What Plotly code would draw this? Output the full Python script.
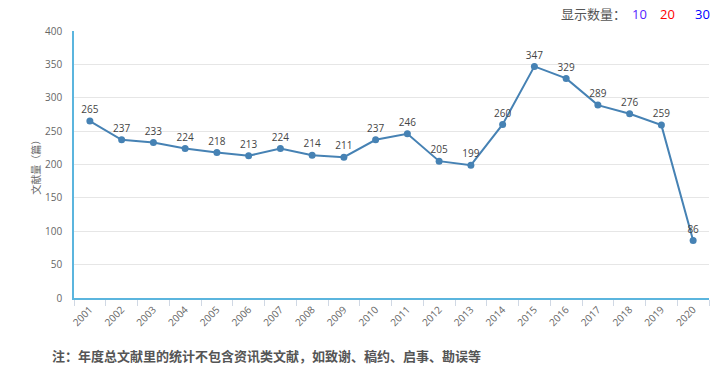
import plotly.graph_objects as go

years = [str(y) for y in range(2001, 2021)]
counts = [265, 237, 233, 224, 218, 213, 224, 214, 211, 237, 246, 205, 199, 260, 347, 329, 289, 276, 259, 86]
y_ticks = [0, 50, 100, 150, 200, 250, 300, 350, 400]
y_title = "文献量（篇）"
note = "注：年度总文献里的统计不包含资讯类文献，如致谢、稿约、启事、勘误等"
show_label = "显示数量："
show_options = ["10", "20", "30"]
show_colors = ["#5522ff", "#ff0000", "#0000ff"]

font_main = "Open Sans, Noto Sans CJK SC, sans-serif"
font_cjk = "Noto Sans CJK SC, sans-serif"

fig = go.Figure()
fig.add_trace(go.Scatter(
    x=years, y=counts, mode="lines+markers+text",
    line=dict(color="#4682b4", width=2),
    marker=dict(color="#4682b4", size=7),
    text=[str(v) for v in counts], textposition="top center",
    textfont=dict(size=10, color="#444444", family=font_main),
    cliponaxis=False, hoverinfo="x+y",
))

fig.update_layout(
    width=717, height=386,
    margin=dict(l=74, r=8, t=31, b=88),
    paper_bgcolor="white", plot_bgcolor="white",
    showlegend=False,
    font=dict(family=font_main, size=10, color="#666666"),
    xaxis=dict(
        type="category", tickangle=-45, showgrid=False, automargin=False,
        showline=True, linecolor="#5bb5de", linewidth=2,
        ticks="outside", tickson="boundaries", ticklen=6, tickcolor="#d0d8e4",
        tickfont=dict(size=10, color="#666666"),
        range=[-0.5, len(years) - 0.5],
    ),
    yaxis=dict(
        range=[0, 400], tickvals=y_ticks, showgrid=True, gridcolor="#e6e6e6",
        showline=True, linecolor="#5bb5de", linewidth=1.5, automargin=False,
        zeroline=False, ticks="", ticklabelstandoff=8,
        tickfont=dict(size=10, color="#666666"),
    ),
)

fig.add_annotation(text=y_title, textangle=-90, xref="paper", yref="paper",
                   x=-0.061, y=0.5, xanchor="center", yanchor="middle", showarrow=False,
                   font=dict(size=10, color="#666666", family=font_cjk))
fig.add_annotation(text="<b>" + note + "</b>", xref="paper", yref="paper",
                   x=-0.038, y=-0.217, xanchor="left", yanchor="middle", showarrow=False,
                   font=dict(size=13, color="#555555", family=font_cjk))
fig.add_annotation(text=show_label, xref="paper", yref="paper",
                   x=0.872, y=1.064, xanchor="right", yanchor="middle", showarrow=False,
                   font=dict(size=13, color="#555555", family=font_cjk))
xs = [0.891, 0.935, 0.989]
for t, c, xx in zip(show_options, show_colors, xs):
    fig.add_annotation(text=t, xref="paper", yref="paper", x=xx, y=1.064,
                       xanchor="center", yanchor="middle", showarrow=False,
                       font=dict(size=13, color=c, family=font_main))

fig.write_html("out.html", config={"displayModeBar": False},
               post_script="document.body.style.margin='0';")
